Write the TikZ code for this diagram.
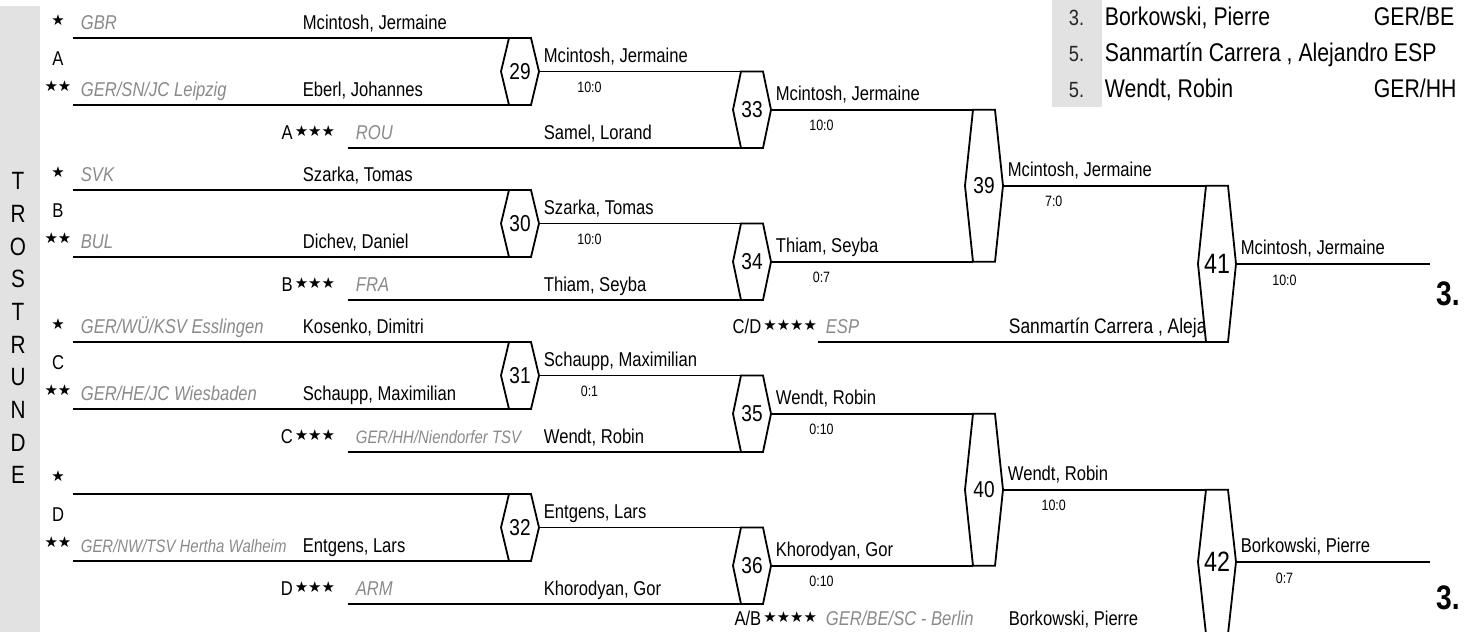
\documentclass[tikz,border=0pt]{standalone}
\usepackage{fontspec}
\setmainfont{Liberation Sans}[FakeStretch=0.83]
\newfontfamily\starfont{DejaVu Sans}
\definecolor{bandgrey}{RGB}{226,226,226}
\definecolor{clubgrey}{RGB}{138,138,138}
\newcommand{\sterne}[1]{\kern1pt\raisebox{1.5pt}{\starfont\fontsize{7.5}{8}\selectfont#1}}
\newcommand{\clubsmall}{\fontsize{9}{10}\selectfont}
\tikzset{
  player/.style={anchor=base west,inner sep=0pt,font=\fontsize{10}{12}\selectfont},
  club/.style={anchor=base west,inner sep=0pt,text=clubgrey,font=\fontsize{10}{12}\selectfont\itshape},
  winner/.style={anchor=base west,inner sep=0pt,xshift=2pt,yshift=4.5pt,font=\fontsize{10}{12}\selectfont},
  score/.style={inner sep=0pt,yshift=-8pt,font=\fontsize{7.5}{9}\selectfont},
  hexnr/.style={inner sep=0pt,font=\fontsize{11.5}{13}\selectfont},
  hexbig/.style={inner sep=0pt,font=\fontsize{14}{16}\selectfont},
  seed/.style={inner sep=0pt,font=\starfont\fontsize{7.5}{8}\selectfont},
  pool/.style={inner sep=0pt,font=\fontsize{10}{12}\selectfont},
  band/.style={inner sep=0pt,font=\fontsize{12.5}{14}\selectfont},
  place/.style={inner sep=0pt,font=\bfseries\fontsize{17}{19}\selectfont},
  listnr/.style={anchor=base west,inner sep=0pt,text=black!85,font=\fontsize{11}{13}\selectfont},
  listname/.style={anchor=base west,inner sep=0pt,font=\fontsize{12.8}{15}\selectfont}
}
% #1 style, #2 name, #3 x, #4 top, #5 bottom, #6 number
\newcommand{\hexbox}[6][hexnr]{%
  \coordinate (#2-tl) at (#3,#4);
  \coordinate (#2-tr) at (#3+22,#4);
  \coordinate (#2-br) at (#3+22,#5);
  \coordinate (#2-bl) at (#3,#5);
  \coordinate (#2-l) at (#3-8,{(#4+#5)/2});
  \coordinate (#2-r) at (#3+30,{(#4+#5)/2});
  \draw[fill=white] (#2-tl) -- (#2-tr) -- (#2-r) -- (#2-br) -- (#2-bl) -- (#2-l) -- cycle;
  \node[#1] (#2) at (#3+11,{(#4+#5)/2}) {#6};}
% #1 key, #2 letter, #3 y, then club/player of the three rows
\newcommand{\gruppe}[9]{%
  \coordinate (#11) at (73,#3);
  \coordinate (#12) at (73,#3+67);
  \coordinate (#13) at (348,#3+110);
  \node[seed] (#1s1) at (58,#3-18) {★};
  \node[pool] (#1p) at (58,#3+21) {#2};
  \node[seed] (#1s2) at (58,#3+48) {★★};
  \node[club] (#1c1) at (80,#3-9) {#4};
  \node[player] (#1n1) at (302,#3-9) {#5};
  \node[club] (#1c2) at (80,#3+58) {#6};
  \node[player] (#1n2) at (302,#3+58) {#7};
  \node[pool,anchor=base east] (#1s3) at (336,#3+101) {#2\sterne{★★★}};
  \node[club] (#1c3) at (355,#3+101) {#8};
  \node[player] (#1n3) at (543,#3+101) {#9};}
\begin{document}
\begin{tikzpicture}[x=0.5pt,y=-0.5pt,line width=0.9pt]
\useasboundingbox (0,0) rectangle (1474,632);
\clip (0,0) rectangle (1474,632);
\fill[bandgrey] (0,6) rectangle (40,632);
\foreach \c [count=\i from 0] in {T,R,O,S,T,R,U,N,D,E}
  \node[band] (tr\i) at (18,181+\i*32.7) {\c};
\hexbox{h29}{509}{38}{105}{29}
\hexbox{h30}{509}{190}{257}{30}
\hexbox{h31}{509}{342}{409}{31}
\hexbox{h32}{509}{494}{561}{32}
\hexbox{h33}{741}{71.5}{148}{33}
\hexbox{h34}{741}{223.5}{300}{34}
\hexbox{h35}{741}{375.5}{452}{35}
\hexbox{h36}{741}{527.5}{604}{36}
\hexbox{h39}{973}{109.75}{261.75}{39}
\hexbox{h40}{973}{413.75}{565.75}{40}
\hexbox[hexbig]{h41}{1206}{185.75}{342}{41}
\hexbox[hexbig]{h42}{1206}{489.75}{634}{42}
\gruppe{a}{A}{38}{GBR}{Mcintosh, Jermaine}{GER/SN/JC Leipzig}{Eberl, Johannes}{ROU}{Samel, Lorand}
\gruppe{b}{B}{190}{SVK}{Szarka, Tomas}{BUL}{Dichev, Daniel}{FRA}{Thiam, Seyba}
\gruppe{c}{C}{342}{GER/WÜ/KSV Esslingen}{Kosenko, Dimitri}{GER/HE/JC Wiesbaden}{Schaupp, Maximilian}{\clubsmall GER/HH/Niendorfer TSV}{Wendt, Robin}
\gruppe{d}{D}{494}{}{}{\clubsmall GER/NW/TSV Hertha Walheim}{Entgens, Lars}{ARM}{Khorodyan, Gor}
\foreach \g/\p/\q in {a/29/33,b/30/34,c/31/35,d/32/36}{
  \draw (\g1) -- (h\p-tl);
  \draw (\g2) -- (h\p-bl);
  \draw (\g3) -- (h\q-bl);
}
\foreach \p/\q/\w/\s in {29/33/{Mcintosh, Jermaine}/10:0,30/34/{Szarka, Tomas}/10:0,31/35/{Schaupp, Maximilian}/0:1}
  \draw (h\p-r) -- (h\q-tl) node[winner,pos=0] (w\p) {\w} node[score,pos=.25] (s\p) {\s};
\draw (h32-r) -- (h36-tl) node[winner,pos=0] (w32) {Entgens, Lars};
\foreach \p/\q/\e/\w/\s in {33/39/tl/{Mcintosh, Jermaine}/10:0,34/39/bl/{Thiam, Seyba}/0:7,35/40/tl/{Wendt, Robin}/0:10,36/40/bl/{Khorodyan, Gor}/0:10}
  \draw (h\p-r) -- (h\q-\e) node[winner,pos=0] (w\p) {\w} node[score,pos=.25] (s\p) {\s};
\draw (h39-r) -- (h41-tl) node[winner,pos=0] (w39) {Mcintosh, Jermaine} node[score,pos=.25] (s39) {7:0};
\draw (h40-r) -- (h42-tl) node[winner,pos=0] (w40) {Wendt, Robin} node[score,pos=.25] (s40) {10:0};
\coordinate (cd) at (818,342);
\draw (cd) -- (h41-bl);
\node[pool,anchor=base east] (cdl) at (818,333) {C/D\sterne{★★★★}};
\node[club] (cdc) at (825,333) {ESP};
\begin{scope}
  \clip (1000,250) -- (h41-l) -- (h41-bl) -- (1000,345) -- cycle;
  \node[player,font=\fontsize{10.5}{12}\selectfont] (cdn) at (1008,333) {Sanmartín Carrera , Alejandro};
\end{scope}
\coordinate (ab) at (818,634);
\draw (ab) -- (h42-bl);
\node[pool,anchor=base east] (abl) at (818,625) {A/B\sterne{★★★★}};
\node[club] (abc) at (825,625) {GER/BE/SC - Berlin};
\node[player] (abn) at (1008,625) {Borkowski, Pierre};
\coordinate (f41) at ([xshift=97pt]h41-r);
\coordinate (f42) at ([xshift=97pt]h42-r);
\draw (h41-r) -- (f41) node[winner,pos=0] (w41) {Mcintosh, Jermaine} node[score,pos=.25] (s41) {10:0};
\draw (h42-r) -- (f42) node[winner,pos=0] (w42) {Borkowski, Pierre} node[score,pos=.25] (s42) {0:7};
\node[place] (p41) at (1448,294) {3.};
\node[place] (p42) at (1448,598) {3.};
\fill[bandgrey] (1052,0) rectangle (1102,107);
\node[listnr] (r1) at (1068,25) {3.};
\node[listname] (n1) at (1104,25) {Borkowski, Pierre};
\node[listname] (k1) at (1373,25) {GER/BE};
\node[listnr] (r2) at (1068,61) {5.};
\node[listname] (n2) at (1104,61) {Sanmartín Carrera , Alejandro};
\node[listname] (k2) at (1393,61) {ESP};
\node[listnr] (r3) at (1068,97) {5.};
\node[listname] (n3) at (1104,97) {Wendt, Robin};
\node[listname] (k3) at (1373,97) {GER/HH};
\end{tikzpicture}
\end{document}
